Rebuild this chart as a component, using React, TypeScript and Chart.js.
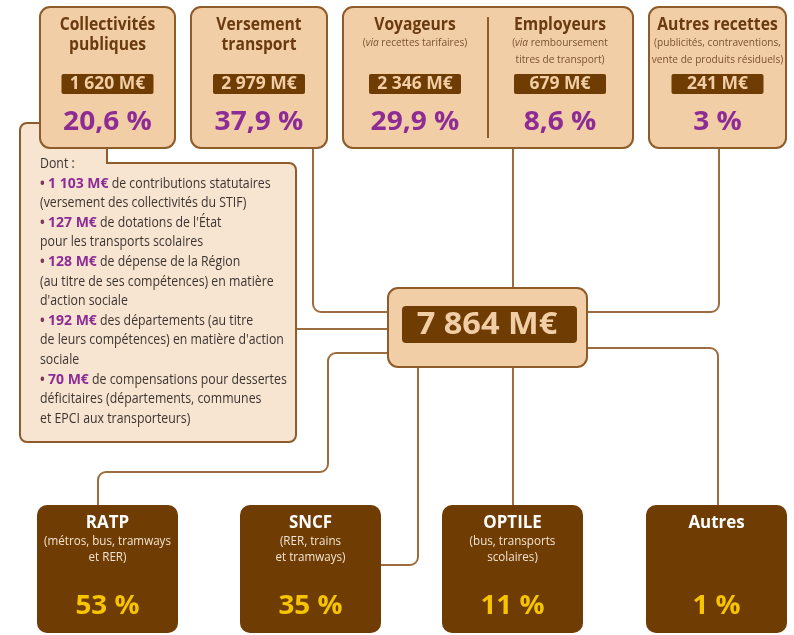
import React, { useEffect, useRef } from "react";
import { Chart, registerables } from "chart.js";

Chart.register(...registerables);

// ---------- DATA ----------
const sourceTitles: string[][] = [
  ["Collectivités", "publiques"],
  ["Versement", "transport"],
  ["Voyageurs"],
  ["Employeurs"],
  ["Autres recettes"],
];
const sourceNotes: string[][] = [
  [],
  [],
  ["(*via* recettes tarifaires)"],
  ["(*via* remboursement", "titres de transport)"],
  ["(publicités, contraventions,", "vente de produits résiduels)"],
];
const sourceAmounts: number[] = [1620, 2979, 2346, 679, 241];
const sourceShares: number[] = [20.6, 37.9, 29.9, 8.6, 3];
const totalAmount = 7864;

const detailIntro = "Dont :";
const detailAmounts: number[] = [1103, 127, 128, 192, 70];
const detailTexts: string[][] = [
  [" de contributions statutaires", "(versement des collectivités du STIF)"],
  [" de dotations de l'État", "pour les transports scolaires"],
  [" de dépense de la Région", "(au titre de ses compétences) en matière", "d'action sociale"],
  [" des départements (au titre", "de leurs compétences) en matière d'action", "sociale"],
  [" de compensations pour dessertes", "déficitaires (départements, communes", "et EPCI aux transporteurs)"],
];

const destNames: string[] = ["RATP", "SNCF", "OPTILE", "Autres"];
const destNotes: string[][] = [
  ["(métros, bus, tramways", "et RER)"],
  ["(RER, trains", "et tramways)"],
  ["(bus, transports", "scolaires)"],
  [],
];
const destShares: number[] = [53, 35, 11, 1];

// ---------- LAYOUT / STYLE ----------
const FONT = "'Open Sans', 'Noto Sans', sans-serif";
const C_FILL = "#F1CEA5";
const C_FILL_LIGHT = "#F8E5D1";
const C_BORDER = "#8E5B2A";
const C_LINE = "#9E6D3F";
const C_DARK = "#6F3C03";
const C_TITLE = "#6A3A10";
const C_PURPLE = "#8E2C96";
const C_YELLOW = "#F6C400";
const C_TEXT = "#3B3431";

const srcBoxes = [
  { x: 40, y: 7, w: 135, h: 141 },
  { x: 191, y: 7, w: 136, h: 141 },
  { x: 343, y: 7, w: 290, h: 141 },
  { x: 649, y: 7, w: 137, h: 141 },
];
const srcCols = [107.5, 259, 415, 560, 717.5];
const destBoxes = [
  { x: 37, y: 505, w: 141, h: 128 },
  { x: 240, y: 505, w: 141, h: 128 },
  { x: 442, y: 505, w: 141, h: 128 },
  { x: 646, y: 505, w: 141, h: 128 },
];
const connectors: number[][][] = [
  [[313, 148], [313, 312], [388, 312]],
  [[513, 148], [513, 288]],
  [[719, 148], [719, 312], [587, 312]],
  [[296, 329], [388, 329]],
  [[388, 353], [328, 353], [328, 472], [98, 472], [98, 505]],
  [[418, 367], [418, 565], [381, 565]],
  [[513, 367], [513, 505]],
  [[587, 348], [718, 348], [718, 505]],
];

const fmtAmount = (n: number) =>
  n.toString().replace(/\B(?=(\d{3})+(?!\d))/g, "\u00A0") + "\u00A0M€";
const fmtPct = (n: number) => n.toString().replace(".", ",") + "\u00A0%";

function roundRect(ctx: CanvasRenderingContext2D, x: number, y: number, w: number, h: number, r: number) {
  ctx.beginPath();
  ctx.moveTo(x + r, y);
  ctx.arcTo(x + w, y, x + w, y + h, r);
  ctx.arcTo(x + w, y + h, x, y + h, r);
  ctx.arcTo(x, y + h, x, y, r);
  ctx.arcTo(x, y, x + w, y, r);
  ctx.closePath();
}

// text helper with horizontal condensation k
function txt(ctx: CanvasRenderingContext2D, s: string, x: number, y: number, font: string, color: string, k = 1, align: "left" | "center" = "center") {
  ctx.font = font;
  ctx.fillStyle = color;
  const w = ctx.measureText(s).width * k;
  const x0 = align === "center" ? x - w / 2 : x;
  ctx.save();
  ctx.translate(x0, y);
  ctx.scale(k, 1);
  ctx.textAlign = "left";
  ctx.textBaseline = "middle";
  ctx.fillText(s, 0, 0);
  ctx.restore();
  return w;
}
function tw(ctx: CanvasRenderingContext2D, s: string, font: string, k = 1) {
  ctx.font = font;
  return ctx.measureText(s).width * k;
}

const diagramPlugin = {
  id: "diagram",
  afterDraw(chart: any) {
    const ctx: CanvasRenderingContext2D = chart.ctx;
    const sx = (v: number) => chart.scales.x.getPixelForValue(v);
    const sy = (v: number) => chart.scales.y.getPixelForValue(v);
    const box = (b: { x: number; y: number; w: number; h: number }, r: number) =>
      roundRect(ctx, sx(b.x), sy(b.y), sx(b.x + b.w) - sx(b.x), sy(b.y + b.h) - sy(b.y), r);

    ctx.save();

    // rich text: *italic* segments, centered
    const richCenter = (s: string, cx: number, cy: number, size: number, color: string, k: number) => {
      const parts = s.split("*");
      const fonts = parts.map((_, i) => (i % 2 === 1 ? "italic " : "") + `${size}px ${FONT}`);
      let total = 0;
      parts.forEach((p, i) => { total += tw(ctx, p, fonts[i], k); });
      let x = sx(cx) - total / 2;
      parts.forEach((p, i) => { x += txt(ctx, p, x, sy(cy), fonts[i], color, k, "left"); });
    };

    // connectors
    ctx.strokeStyle = C_LINE;
    ctx.lineWidth = 2;
    connectors.forEach((pts) => {
      ctx.beginPath();
      ctx.moveTo(sx(pts[0][0]), sy(pts[0][1]));
      for (let i = 1; i < pts.length - 1; i++) {
        ctx.arcTo(sx(pts[i][0]), sy(pts[i][1]), sx(pts[i + 1][0]), sy(pts[i + 1][1]), 8);
      }
      const last = pts[pts.length - 1];
      ctx.lineTo(sx(last[0]), sy(last[1]));
      ctx.stroke();
    });

    // detail box
    ctx.beginPath();
    ctx.moveTo(sx(107), sy(148));
    ctx.lineTo(sx(107), sy(163));
    ctx.arcTo(sx(296), sy(163), sx(296), sy(442), 7);
    ctx.arcTo(sx(296), sy(442), sx(20), sy(442), 7);
    ctx.arcTo(sx(20), sy(442), sx(20), sy(123), 7);
    ctx.arcTo(sx(20), sy(123), sx(60), sy(123), 7);
    ctx.lineTo(sx(60), sy(123));
    ctx.lineTo(sx(60), sy(148));
    ctx.closePath();
    ctx.fillStyle = C_FILL_LIGHT;
    ctx.fill();
    ctx.strokeStyle = C_BORDER;
    ctx.lineWidth = 2;
    ctx.stroke();

    // detail text
    const lh = 19.6;
    let ly = 164;
    const lx = sx(40);
    const fReg = `14px ${FONT}`;
    const fBold = `bold 14px ${FONT}`;
    const kReg = 0.88;
    const kBold = 1.0;
    txt(ctx, detailIntro, lx, sy(ly), fReg, C_TEXT, kReg, "left");
    detailAmounts.forEach((a, i) => {
      ly += lh;
      let x = lx;
      x += txt(ctx, "•", x, sy(ly), fBold, "#7A3B5A", 0.9, "left");
      x += tw(ctx, " ", fBold, 0.9);
      x += txt(ctx, fmtAmount(a), x, sy(ly), fBold, C_PURPLE, kBold, "left");
      txt(ctx, detailTexts[i][0], x, sy(ly), fReg, C_TEXT, kReg, "left");
      for (let k = 1; k < detailTexts[i].length; k++) {
        ly += lh;
        txt(ctx, detailTexts[i][k], lx, sy(ly), fReg, C_TEXT, kReg, "left");
      }
    });

    // source boxes
    srcBoxes.forEach((b) => {
      box(b, 10);
      ctx.fillStyle = C_FILL;
      ctx.fill();
      ctx.strokeStyle = C_BORDER;
      ctx.lineWidth = 2;
      ctx.stroke();
    });
    // divider
    ctx.beginPath();
    ctx.moveTo(sx(488), sy(17));
    ctx.lineTo(sx(488), sy(138));
    ctx.strokeStyle = C_BORDER;
    ctx.lineWidth = 2;
    ctx.stroke();

    sourceTitles.forEach((lines, i) => {
      const cx = srcCols[i];
      lines.forEach((t, k) => txt(ctx, t, sx(cx), sy(25 + k * 20), `bold 18px ${FONT}`, C_TITLE, 0.87));
      sourceNotes[i].forEach((t, k) => richCenter(t, cx, 43 + k * 16.5, 11, "#7A5330", 0.92));
      // amount label
      roundRect(ctx, sx(cx - 46), sy(74), 92, 20, 2);
      ctx.fillStyle = C_DARK;
      ctx.fill();
      txt(ctx, fmtAmount(sourceAmounts[i]), sx(cx), sy(84.5), `bold 17px ${FONT}`, C_FILL, 1.03);
      txt(ctx, fmtPct(sourceShares[i]), sx(cx), sy(123), `bold 26px ${FONT}`, C_PURPLE, 1.08);
    });

    // center total
    box({ x: 388, y: 288, w: 199, h: 79 }, 10);
    ctx.fillStyle = C_FILL;
    ctx.fill();
    ctx.strokeStyle = C_BORDER;
    ctx.lineWidth = 2;
    ctx.stroke();
    box({ x: 402, y: 306, w: 175, h: 37 }, 4);
    ctx.fillStyle = C_DARK;
    ctx.fill();
    txt(ctx, fmtAmount(totalAmount), sx(487), sy(325), `bold 31px ${FONT}`, C_FILL, 1.05);

    // destination boxes
    destBoxes.forEach((b, i) => {
      box(b, 10);
      ctx.fillStyle = C_DARK;
      ctx.fill();
      const cx = sx(b.x + b.w / 2);
      txt(ctx, destNames[i], cx, sy(523), `bold 18px ${FONT}`, "#FFFFFF", 0.94);
      destNotes[i].forEach((t, k) => txt(ctx, t, cx, sy(541 + k * 16), `12.5px ${FONT}`, "#F3E3D2", 0.93));
      txt(ctx, fmtPct(destShares[i]), cx, sy(606), `bold 27px ${FONT}`, C_YELLOW, 1.03);
    });

    ctx.restore();
  },
};

export default function App() {
  const ref = useRef<HTMLCanvasElement | null>(null);
  useEffect(() => {
    document.body.style.margin = "0";
    const canvas = ref.current!;
    const chart = new Chart(canvas, {
      type: "scatter",
      data: { datasets: [] },
      options: {
        responsive: false,
        animation: false,
        layout: { padding: 0 },
        plugins: { legend: { display: false }, tooltip: { enabled: false } },
        scales: {
          x: { type: "linear", min: 0, max: 794, display: false },
          y: { type: "linear", min: 0, max: 635, reverse: true, display: false },
        },
      },
      plugins: [diagramPlugin],
    } as any);
    return () => chart.destroy();
  }, []);
  return (
    <div style={{ width: 794, height: 635, background: "#fff" }}>
      <canvas ref={ref} width={794} height={635} style={{ display: "block" }} />
    </div>
  );
}
